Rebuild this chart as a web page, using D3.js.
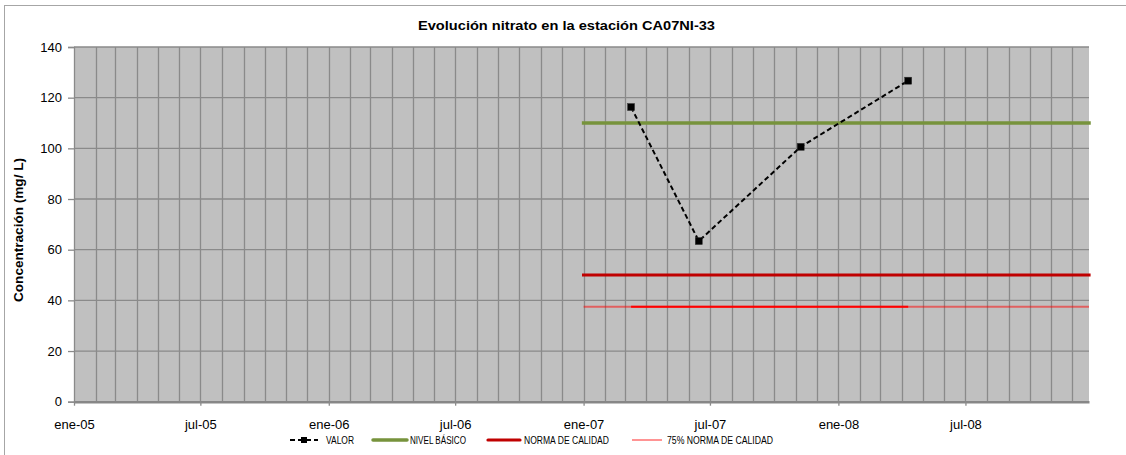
<!DOCTYPE html>
<html><head><meta charset="utf-8">
<script src="https://cdn.jsdelivr.net/npm/d3@7"></script>
<style>body{margin:0;background:#fff;} svg{display:block;font-family:"Liberation Sans",Arial,sans-serif;}</style>
</head><body>
<script>
// ---- data ----
const valorDates = ["2007-03-10", "2007-06-15", "2007-11-08", "2008-04-10"];
const valorValues = [116.3, 63.4, 100.6, 126.7];
const limitDates = ["2007-01-01", "2008-12-25"];
const nivelBasico = [110, 110];
const normaCalidad = [50, 50];
const norma75 = [37.5, 37.5];
const xTickDates = ["2005-01-01", "2005-07-01", "2006-01-01", "2006-07-01", "2007-01-01", "2007-07-01", "2008-01-01", "2008-07-01"];
const xTickLabels = ["ene-05", "jul-05", "ene-06", "jul-06", "ene-07", "jul-07", "ene-08", "jul-08"];
const yTicks = [0, 20, 40, 60, 80, 100, 120, 140];
const legendLabels = ["VALOR", "NIVEL BÁSICO", "NORMA DE CALIDAD", "75% NORMA DE CALIDAD"];
const titleText = "Evolución nitrato en la estación CA07NI-33";
const yTitle = "Concentración (mg/ L)";

const parse = d3.timeParse("%Y-%m-%d");
const W = 1126, H = 455;
const m = {l: 74, r: 1089, t: 47, b: 401.7};

const svg = d3.select("body").append("svg").attr("width", W).attr("height", H);
svg.append("rect").attr("x", 4.5).attr("y", 5.5).attr("width", 1130).attr("height", 460)
  .attr("fill", "#fff").attr("stroke", "#a6a6a6").attr("stroke-width", 1);

const x = d3.scaleTime().domain([parse("2005-01-01"), parse("2008-12-25")]).range([m.l, m.r]);
const y = d3.scaleLinear().domain([0, 140]).range([m.b, m.t]);

// plot bg
svg.append("rect").attr("x", m.l).attr("y", m.t).attr("width", m.r - m.l).attr("height", m.b - m.t).attr("fill", "#c0c0c0");

// vertical monthly gridlines
const months = d3.timeMonth.range(parse("2005-02-01"), x.domain()[1]);
svg.append("g").selectAll("line").data(months).join("line")
  .attr("x1", d => Math.round(x(d)) + 0.5).attr("x2", d => Math.round(x(d)) + 0.5)
  .attr("y1", m.t).attr("y2", m.b).attr("stroke", "#8a8a8a").attr("stroke-width", 1.3);

// horizontal gridlines
svg.append("g").selectAll("line").data(yTicks.filter(d => d > 0)).join("line")
  .attr("x1", m.l).attr("x2", m.r).attr("y1", d => y(d)).attr("y2", d => y(d))
  .attr("stroke", "#8a8a8a").attr("stroke-width", 1.3);

// y axis
const yAxis = d3.axisLeft(y).tickValues(yTicks).tickSize(6).tickPadding(6);
const gy = svg.append("g").attr("transform", `translate(${m.l},0)`).call(yAxis);
gy.select(".domain").attr("stroke", "#8a8a8a").attr("stroke-width", 1.3);
gy.selectAll(".tick line").attr("stroke", "#8a8a8a").attr("stroke-width", 1.3);
gy.selectAll("text").attr("font-size", 13).attr("fill", "#000").attr("font-family", "Liberation Sans, Arial");

// x axis
const xAxis = d3.axisBottom(x).tickValues(xTickDates.map(parse))
  .tickFormat((d, i) => xTickLabels[i]).tickSize(4).tickSizeOuter(0).tickPadding(14);
const gx = svg.append("g").attr("transform", `translate(0,${m.b})`).call(xAxis);
gx.select(".domain").attr("stroke", "#878787").attr("stroke-width", 2.5);
gx.selectAll(".tick line").attr("stroke", "#8a8a8a").attr("stroke-width", 1.3);
gx.selectAll("text").attr("font-size", 13).attr("fill", "#000").attr("font-family", "Liberation Sans, Arial");

// reference lines
const ld = limitDates.map(parse);
const limLine = d3.line().x(d => x(d[0])).y(d => y(d[1]));
svg.append("path").datum(ld.map((d, i) => [d, nivelBasico[i]])).attr("d", limLine)
  .attr("fill", "none").attr("stroke", "#77933c").attr("stroke-width", 3.5).attr("stroke-linecap", "square");
svg.append("path").datum(ld.map((d, i) => [d, normaCalidad[i]])).attr("d", limLine)
  .attr("fill", "none").attr("stroke", "#c00000").attr("stroke-width", 3.2).attr("stroke-linecap", "square");
svg.append("path").datum(ld.map((d, i) => [d, norma75[i]])).attr("d", limLine)
  .attr("fill", "none").attr("stroke", "#ff0000").attr("stroke-opacity", 0.5).attr("stroke-width", 2);
const vd = valorDates.map(parse);
const ext = d3.extent(vd);
svg.append("path").datum(ext.map((d, i) => [d, norma75[i]])).attr("d", limLine)
  .attr("fill", "none").attr("stroke", "#ff0000").attr("stroke-width", 2);

// valor series
const pts = vd.map((d, i) => [d, valorValues[i]]);
svg.append("path").datum(pts).attr("d", limLine).attr("fill", "none")
  .attr("stroke", "#000").attr("stroke-width", 2).attr("stroke-dasharray", "5,3");
svg.append("g").selectAll("rect").data(pts).join("rect")
  .attr("x", d => x(d[0]) - 3.5).attr("y", d => y(d[1]) - 3.5).attr("width", 7).attr("height", 7)
  .attr("fill", "#000").attr("stroke", "#333").attr("stroke-width", 0.5);

// title
svg.append("text").attr("x", 566.5).attr("y", 30).attr("text-anchor", "middle")
  .attr("font-size", 13).attr("font-weight", "bold").attr("textLength", 297).attr("lengthAdjust", "spacingAndGlyphs")
  .text(titleText);
svg.append("text").attr("transform", "translate(23,230) rotate(-90)").attr("text-anchor", "middle")
  .attr("font-size", 13).attr("font-weight", "bold").attr("textLength", 144).attr("lengthAdjust", "spacingAndGlyphs")
  .text(yTitle);

// legend
const lg = svg.append("g").attr("font-size", 10);
const ly = 440;
lg.append("line").attr("x1", 290).attr("x2", 318).attr("y1", ly).attr("y2", ly)
  .attr("stroke", "#000").attr("stroke-width", 2).attr("stroke-dasharray", "5,3");
lg.append("rect").attr("x", 301).attr("y", ly - 3).attr("width", 6).attr("height", 6).attr("fill", "#000");
lg.append("line").attr("x1", 373).attr("x2", 407).attr("y1", ly).attr("y2", ly)
  .attr("stroke", "#77933c").attr("stroke-width", 3.5).attr("stroke-linecap", "round");
lg.append("line").attr("x1", 488).attr("x2", 520).attr("y1", ly).attr("y2", ly)
  .attr("stroke", "#c00000").attr("stroke-width", 3.2).attr("stroke-linecap", "round");
lg.append("line").attr("x1", 632).attr("x2", 662).attr("y1", ly).attr("y2", ly)
  .attr("stroke", "#ff0000").attr("stroke-opacity", 0.7).attr("stroke-width", 1.2);
const lx = [326, 410, 524, 667], lw = [28, 56, 85, 106];
legendLabels.forEach((t, i) => {
  lg.append("text").attr("x", lx[i]).attr("y", ly + 3.5).attr("textLength", lw[i])
    .attr("lengthAdjust", "spacingAndGlyphs").text(t);
});
</script>
</body></html>
